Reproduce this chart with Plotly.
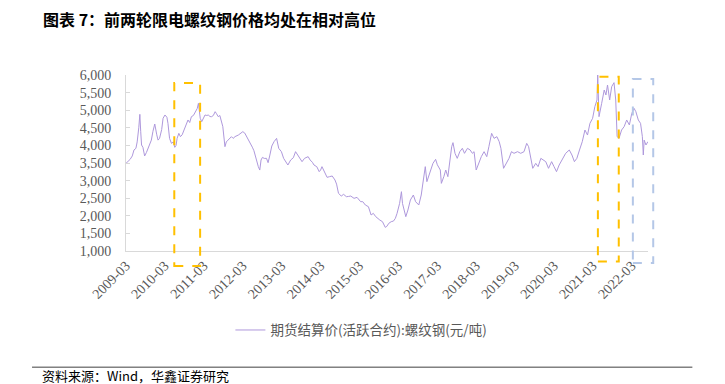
import plotly.graph_objects as go

# ---- data ----
dates = [
    "2009-03-27","2009-04-15","2009-05-05","2009-05-25","2009-06-10","2009-06-28","2009-07-10","2009-07-25",
    "2009-08-04","2009-08-12","2009-08-20","2009-09-02","2009-09-18","2009-10-05","2009-10-20","2009-11-05",
    "2009-11-20","2009-12-05","2009-12-22",
    "2010-01-10","2010-01-22","2010-02-05","2010-02-25","2010-03-10","2010-03-28","2010-04-15","2010-04-25",
    "2010-05-10","2010-05-28","2010-06-15","2010-06-28","2010-07-10","2010-07-20","2010-08-05","2010-08-20",
    "2010-09-05","2010-09-25","2010-10-15","2010-10-30","2010-11-15","2010-12-01","2010-12-20",
    "2011-01-05","2011-01-25","2011-02-05","2011-02-15","2011-02-22","2011-03-08","2011-03-25","2011-04-08",
    "2011-04-25","2011-05-08","2011-05-25","2011-06-08","2011-06-25","2011-07-12","2011-07-25","2011-08-10",
    "2011-08-25","2011-09-10","2011-09-22","2011-10-12","2011-10-25","2011-11-10","2011-11-25","2011-12-12",
    "2011-12-28",
    "2012-01-15","2012-02-15","2012-03-05","2012-03-28","2012-04-15","2012-05-05","2012-05-20","2012-06-05",
    "2012-06-25","2012-07-10","2012-07-20","2012-08-05","2012-08-20","2012-09-03","2012-09-15","2012-09-28",
    "2012-10-15","2012-11-05","2012-11-20","2012-12-05","2012-12-25",
    "2013-01-15","2013-02-08","2013-02-28","2013-03-25","2013-04-15","2013-05-05","2013-05-25","2013-06-20",
    "2013-07-15","2013-08-05","2013-08-25","2013-09-15","2013-10-05","2013-10-28","2013-11-15","2013-12-01",
    "2013-12-20",
    "2014-01-10","2014-01-25","2014-02-20","2014-03-15","2014-03-28","2014-04-10","2014-05-05","2014-05-28",
    "2014-06-20","2014-07-15","2014-08-10","2014-08-25","2014-09-12","2014-10-08","2014-10-30","2014-11-25",
    "2014-12-15",
    "2015-01-05","2015-02-05","2015-03-05","2015-04-08","2015-04-28","2015-05-22","2015-06-20","2015-07-15",
    "2015-08-05","2015-08-28","2015-09-20","2015-10-05","2015-10-30","2015-11-25","2015-12-10","2015-12-28",
    "2016-01-20","2016-02-10","2016-02-28","2016-03-15","2016-04-08","2016-04-25","2016-05-05","2016-05-20",
    "2016-06-05","2016-06-25","2016-07-18","2016-08-15","2016-09-05","2016-10-05","2016-10-28","2016-11-10",
    "2016-11-22","2016-12-05","2016-12-20",
    "2017-01-10","2017-01-25","2017-02-15","2017-03-12","2017-03-28","2017-04-25","2017-05-05","2017-05-28",
    "2017-06-15","2017-07-05","2017-07-20","2017-08-10","2017-08-22","2017-09-10","2017-10-01","2017-10-25",
    "2017-11-18","2017-12-08",
    "2018-01-05","2018-01-30","2018-02-20","2018-03-08","2018-03-28","2018-04-20","2018-05-15","2018-06-10",
    "2018-07-05","2018-07-25","2018-08-20","2018-09-12","2018-10-08","2018-10-30","2018-11-15","2018-12-10",
    "2019-01-08","2019-01-30","2019-02-22","2019-03-18","2019-04-20","2019-05-20","2019-06-20","2019-07-15",
    "2019-08-02","2019-08-20","2019-09-10","2019-10-08","2019-10-30","2019-11-25","2019-12-15",
    "2020-01-10","2020-02-05","2020-03-05","2020-03-28","2020-04-20","2020-05-15","2020-06-18","2020-07-15",
    "2020-08-18","2020-09-12","2020-10-05","2020-10-28","2020-11-22","2020-12-18",
    "2021-01-12","2021-02-05","2021-02-28","2021-03-25","2021-04-15","2021-05-05","2021-05-12","2021-05-24",
    "2021-06-18","2021-07-12","2021-07-28","2021-08-12","2021-09-01","2021-09-20","2021-10-12","2021-10-28",
    "2021-11-10","2021-11-28","2021-12-22",
    "2022-01-15","2022-02-08","2022-03-05","2022-03-28","2022-04-18","2022-05-05","2022-05-28","2022-06-18",
    "2022-07-05","2022-07-14","2022-07-22","2022-08-08","2022-08-26",
]
rebar_price = [
    3490,3550,3604,3700,3870,3917,4100,4500,
    4882,4400,4011,3945,3700,3800,3917,4050,
    4150,4400,4608,
    4300,4150,4200,4450,4770,4864,4800,4627,
    4200,4058,4100,3945,4000,4200,4343,4248,
    4300,4437,4600,4722,4650,4816,4850,
    4958,5050,5195,4900,4770,4674,4800,4864,
    4850,4864,4820,4816,4850,4958,4900,4816,
    4850,4700,4532,3964,4100,4150,4200,4248,
    4200,
    4250,4295,4350,4390,4350,4248,4150,4058,
    3950,3850,3727,3500,3400,3300,3585,3660,
    3630,3632,3509,3700,3983,
    4106,4200,3917,3822,3632,3550,3443,3585,
    3650,3822,3727,3650,3538,3632,3650,3680,
    3585,
    3520,3443,3396,3254,3300,3396,3254,3093,
    3112,3131,3017,2900,2638,2562,2610,2543,
    2550,
    2562,2496,2524,2401,2401,2307,2259,2023,
    2070,1975,1900,1880,1833,1672,1700,1786,
    1833,1850,1928,2070,2354,2685,2350,2165,
    1975,2165,2449,2591,2401,2307,2591,2875,
    3200,3396,2970,
    3150,3301,3490,3604,3450,3301,2922,3112,
    3301,3112,3490,3964,4078,3775,3632,3822,
    3917,3775,
    3917,3870,3775,3822,3301,3490,3680,3822,
    3680,3964,4343,4200,4248,4106,3917,3349,
    3490,3632,3822,3775,3822,3775,3822,4058,
    3964,3632,3349,3490,3396,3632,3585,
    3538,3349,3538,3396,3254,3443,3632,3775,
    3870,3727,3538,3632,3870,4106,
    4437,4295,4627,4770,5100,5290,6000,4816,
    5195,5574,5432,5716,5290,5669,5782,5290,
    4248,4200,4437,
    4532,4722,4580,4911,5053,4958,4722,4627,
    4248,3727,4150,4011,4106,
]
series_name = "期货结算价(活跃合约):螺纹钢(元/吨)"
tick_dates = ["%d-03-27" % y for y in range(2009, 2023)]
tick_text = ["%d-03" % y for y in range(2009, 2023)]
y_ticks = [1000, 1500, 2000, 2500, 3000, 3500, 4000, 4500, 5000, 5500, 6000]

fig = go.Figure()
fig.add_trace(go.Scatter(
    x=dates, y=rebar_price, mode="lines", name=series_name,
    line=dict(color="#AE98DC", width=1), showlegend=True,
))

YELLOW = "#FFC000"
BLUE = "#B4C7E7"
def box(x0, x1, ytop, ybot, color):
    fig.add_shape(type="rect", xref="paper", yref="paper", x0=x0, x1=x1, y0=ybot, y1=ytop,
                  line=dict(color=color, width=2, dash="dash"), fillcolor="rgba(0,0,0,0)", layer="above")

box(0.0925, 0.142, 0.955, -0.085, YELLOW)
box(0.904, 0.944, 0.99, -0.06, YELLOW)
box(0.971, 1.010, 0.977, -0.068, BLUE)

# source line
fig.add_shape(type="line", xref="paper", yref="paper", x0=-0.18, x1=1.085, y0=-0.66, y1=-0.66,
              line=dict(color="#404040", width=1))

fig.add_annotation(text="<b>图表 7：前两轮限电螺纹钢价格均处在相对高位</b>", xref="paper", yref="paper",
                   x=-0.162, y=1.318, xanchor="left", yanchor="middle", showarrow=False,
                   font=dict(family="Noto Sans CJK SC", size=16, color="#000000"))
fig.add_annotation(text="资料来源：Wind，华鑫证券研究", xref="paper", yref="paper",
                   x=-0.165, y=-0.705, xanchor="left", yanchor="middle", showarrow=False,
                   font=dict(family="Noto Sans CJK SC", size=13, color="#000000"))

fig.update_layout(
    width=725, height=384,
    margin=dict(l=126, r=77, t=75, b=133),
    paper_bgcolor="white", plot_bgcolor="white",
    font=dict(family="Liberation Serif", size=14, color="#595959"),
    showlegend=True,
    legend=dict(orientation="h", x=0.2, xanchor="left", y=-0.45, yanchor="middle",
                font=dict(family="Noto Sans CJK SC", size=13.5, color="#595959"),
                bgcolor="rgba(0,0,0,0)"),
    xaxis=dict(type="date", range=["2009-03-27", "2022-08-27"], tickvals=tick_dates, ticktext=tick_text,
               tickangle=-45, showgrid=False, zeroline=False, showline=True, linecolor="#D9D9D9",
               linewidth=1, ticks="", automargin=False,
               tickfont=dict(family="Liberation Serif", size=14, color="#595959")),
    yaxis=dict(range=[1000, 6000], tickvals=y_ticks, tickformat=",", showgrid=False, zeroline=False,
               showline=True, linecolor="#D9D9D9", linewidth=1, ticks="inside", ticklen=4,
               tickcolor="#D9D9D9", ticklabelstandoff=11, automargin=False,
               tickfont=dict(family="Liberation Serif", size=14, color="#595959")),
)

fig.write_html("out.html", config={"displayModeBar": False},
               post_script="document.body.style.margin='0';document.body.style.padding='0';")
